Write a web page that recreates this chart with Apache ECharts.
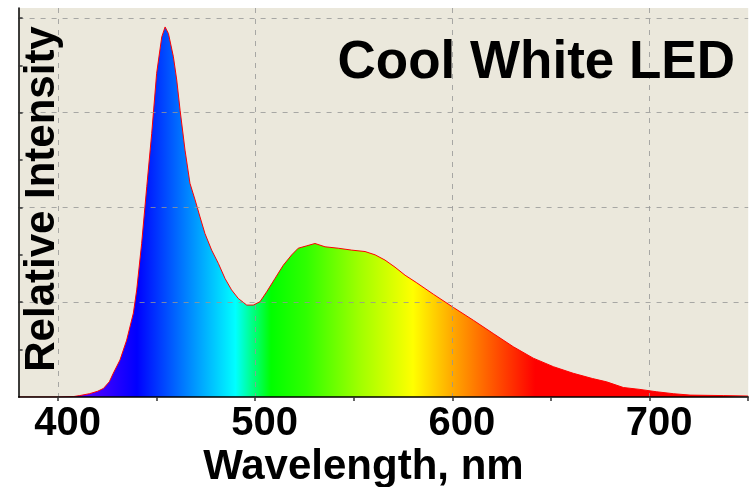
<!DOCTYPE html>
<html>
<head>
<meta charset="utf-8">
<script src="https://cdn.jsdelivr.net/npm/echarts@6/dist/echarts.min.js"></script>
<style>
    html, body { margin: 0; padding: 0; background: #ffffff; }
    #spectrumChart { width: 749px; height: 487px; }
</style>
</head>
<body>
<div id="spectrumChart"></div>
<script>
    // 波长 nm
    const wavelengths = [
        380, 400, 408, 411, 416, 420, 423, 426, 428, 431.4, 434.8, 438.2, 439.9, 442.4, 445,
        447.5, 450, 452.6, 454.3, 456, 458.5, 460.2, 461.9, 464.4, 466.9, 469.5, 472, 474.5,
        477.9, 481.3, 484.7, 488, 491.4, 495.7, 499, 502.4, 505.8, 510, 514.2, 518.5, 521.8,
        526.1, 530.3, 535.4, 542.1, 548.9, 555.7, 560.8, 565.8, 570.9, 576, 581.9, 590.3,
        600.5, 610.6, 620.7, 630.9, 641, 651.2, 661.3, 671, 678.2, 686.7, 695.1, 703.6, 712,
        720.5, 737.4, 750
    ]
    // 相对强度
    const intensity = [
        0, 0, 0.01, 0.03, 0.07, 0.12, 0.18, 0.32, 0.50, 0.78, 1.20, 1.77, 2.26, 3.24, 4.44,
        5.56, 6.83, 7.60, 7.81, 7.67, 7.18, 6.69, 6.05, 5.21, 4.51, 4.16, 3.80, 3.45,
        3.10, 2.82, 2.50, 2.26, 2.08, 1.94, 1.94, 2.01, 2.22, 2.50, 2.78, 3.00, 3.14,
        3.19, 3.24, 3.17, 3.14, 3.10, 3.07, 3.00, 2.89, 2.74, 2.57, 2.41, 2.17,
        1.89, 1.62, 1.34, 1.06, 0.82, 0.64, 0.50, 0.39, 0.32, 0.20, 0.16, 0.11, 0.07,
        0.04, 0.03, 0.02
    ]
    // 刻度
    const xTicks = [400, 450, 500, 550, 600, 650, 700, 750]
    const xLabels = [400, 500, 600, 700]
    const yTicks = [1, 2, 3, 4, 5, 6, 7, 8]
    const yGrid = [2, 4, 6, 8]
    // 光谱颜色
    const spectrumNm = [380, 415, 440, 468, 490, 508, 526, 553, 580, 602, 622, 642, 750]
    const spectrumColor = ['#7f00ff', '#5500ff', '#0000ff', '#0090ff', '#00ffff', '#00ff00', '#30ff00',
        '#a0ff00', '#ffff00', '#ffa000', '#ff5000', '#ff0000', '#ff0000']

    const X_MIN = 380, X_MAX = 750, Y_MAX = 8.21
    const font = 'Liberation Sans, Arial, sans-serif'
    const gridDash = { color: 'rgba(150,150,150,0.8)', width: 1, type: [5, 6] }

    let stops = spectrumNm.map((nm, i) => ({
        offset: (nm - X_MIN) / (X_MAX - X_MIN),
        color: spectrumColor[i]
    }))

    let myChart = echarts.init(document.getElementById('spectrumChart'))
    myChart.setOption({
        animation: false,
        title: {
            text: 'Cool White LED',
            right: 14,
            top: 37,
            padding: 0,
            textStyle: { fontFamily: font, fontSize: 53, fontWeight: 'bold', color: '#000' }
        },
        grid: {
            left: 18.6, right: 0.8, top: 8, bottom: 90,
            outerBoundsMode: 'none',
            containLabel: false,
            show: true,
            backgroundColor: '#ebe8dc',
            borderWidth: 0
        },
        xAxis: [{
            type: 'value', min: X_MIN, max: X_MAX, position: 'bottom', z: 6,
            name: 'Wavelength, nm',
            nameLocation: 'middle',
            nameGap: 70,
            nameMoveOverlap: false,
            nameTextStyle: {
                fontFamily: font, fontSize: 42, fontWeight: 'bold', color: '#000',
                verticalAlign: 'middle', padding: [0, 40, 0, 0]
            },
            axisLine: { show: true, lineStyle: { color: '#000', width: 1.5 } },
            axisTick: { show: true, customValues: xTicks, length: 4, lineStyle: { color: '#333', width: 1.5 } },
            axisLabel: {
                customValues: xLabels,
                margin: 27,
                verticalAlign: 'middle',
                padding: [0, 0, 0, 19],
                fontFamily: font, fontSize: 40, fontWeight: 'bold', color: '#000'
            },
            splitLine: { show: false }
        }, {
            // 网格线 (虚线)
            type: 'value', min: X_MIN, max: X_MAX, position: 'bottom', z: 5,
            axisLine: { show: false },
            axisTick: { show: false, customValues: xLabels },
            axisLabel: { show: false },
            splitLine: { show: true, lineStyle: gridDash }
        }],
        yAxis: [{
            type: 'value', min: 0, max: Y_MAX, position: 'left', z: 6,
            name: 'Relative Intensity',
            nameLocation: 'middle',
            nameGap: -24,
            nameMoveOverlap: false,
            nameTextStyle: {
                fontFamily: font, fontSize: 42, fontWeight: 'bold', color: '#000',
                verticalAlign: 'middle', padding: [0, 0, 0, 7]
            },
            axisLine: { show: true, lineStyle: { color: '#000', width: 1.5 } },
            axisTick: { show: true, inside: true, customValues: yTicks, length: 4, lineStyle: { color: '#333', width: 1.5 } },
            axisLabel: { show: false },
            splitLine: { show: false }
        }, {
            type: 'value', min: 0, max: Y_MAX, position: 'left', z: 5,
            axisLine: { show: false },
            axisTick: { show: false, customValues: yGrid },
            axisLabel: { show: false },
            splitLine: { show: true, lineStyle: gridDash }
        }],
        series: [{
            type: 'line',
            xAxisIndex: 0,
            yAxisIndex: 0,
            symbol: 'none',
            smooth: false,
            z: 2,
            lineStyle: { color: '#ff0000', width: 1 },
            areaStyle: {
                opacity: 1,
                color: new echarts.graphic.LinearGradient(0, 0, 1, 0, stops)
            },
            data: wavelengths.map((nm, i) => [nm, intensity[i]])
        }]
    })
</script>
</body>
</html>
